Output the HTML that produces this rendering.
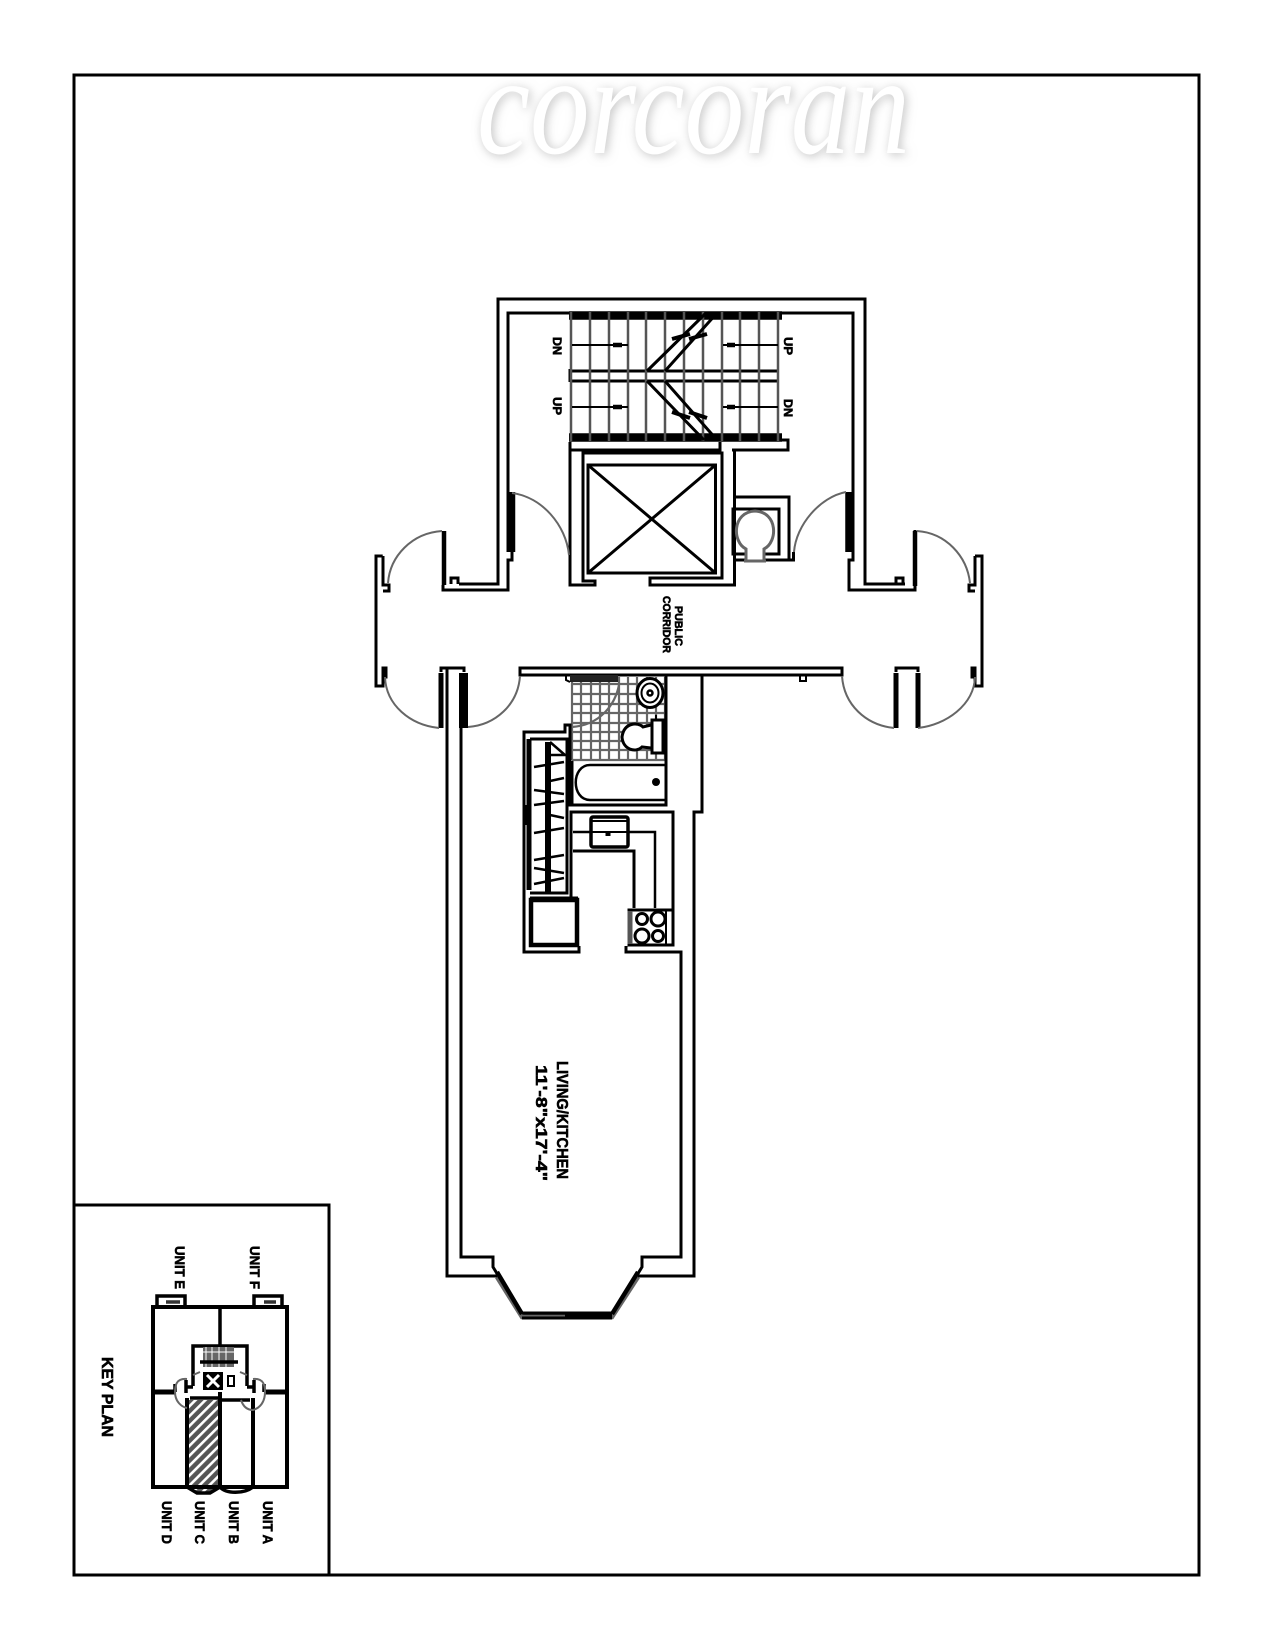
<!DOCTYPE html>
<html><head><meta charset="utf-8"><style>
html,body{margin:0;padding:0;background:#fff}
svg{display:block}
text{font-family:"Liberation Sans",sans-serif;font-weight:bold;fill:#000;stroke:#000;stroke-width:.6}
</style></head><body>
<svg xmlns="http://www.w3.org/2000/svg" width="1275" height="1650" viewBox="0 0 1275 1650">
<defs>
<filter id="wm" x="-10%" y="-30%" width="120%" height="160%"><feDropShadow dx="2" dy="2" stdDeviation="5" flood-color="#999" flood-opacity=".6"/></filter>
<pattern id="hatch" width="7" height="7" patternUnits="userSpaceOnUse" patternTransform="rotate(45)"><rect width="7" height="7" fill="#555"/><rect width="2.6" height="7" fill="#fff"/></pattern>
</defs>
<rect width="1275" height="1650" fill="#fff"/>
<text x="477" y="153" font-size="142" textLength="433" lengthAdjust="spacingAndGlyphs" style="font-family:'Liberation Serif',serif;font-style:italic;font-weight:normal;fill:#fff;stroke:none" filter="url(#wm)">corcoran</text>

<g fill="none" stroke="#000" stroke-width="3">
<rect x="74" y="75" width="1125" height="1500"/>
<path d="M74 1205H329V1575"/>

<!-- stair core outer walls -->
<path d="M459 584H498V299H865V584H905"/>
<path d="M451 584V578H458V584"/>
<path d="M896 584V578H903V584"/>
<path d="M443 585V590H508V560H512V552"/>
<path d="M508 552V313H853V552"/>
<path d="M853 552V560H849V590H915V530"/>
<path d="M444 531V585" stroke-width="4.5"/>
<path d="M915 531V586" stroke-width="4.5"/>
<path d="M511.5 492V552" stroke-width="7.5"/>
<path d="M849 492V552" stroke-width="7.5"/>

<!-- corridor end walls -->
<path d="M382.700 556H376V686H383V668H386V677H383"/>
<path d="M383 556V585H389V591H383"/>
<path d="M975 556H982V686H975V668H972V677H975"/>
<path d="M975 556V585H969V591H975"/>

<!-- corridor south wall -->
<rect x="520" y="668" width="322" height="7"/>
<path d="M441 672V668H464V672"/>
<path d="M896 672V668H918V672"/>
<path d="M441 673V728" stroke-width="5"/>
<path d="M463.500 673V728" stroke-width="9"/>
<path d="M896 673V728" stroke-width="5"/>
<path d="M918 673V728" stroke-width="5"/>
<path d="M800 675V681H806V675" stroke-width="2"/>

<!-- stairs -->
<path d="M569 315.500H782M569 437.500H782" stroke-width="8.500"/>
<path d="M570 371H777M570 381H777M570 369V382"/>
<g stroke="#555" stroke-width="2.500">
<path d="M571 312V441M590 312V441M609 312V441M628 312V441M646 312V441M665 312V441M684 312V441M703 312V441M722 312V441M740 312V441M759 312V441M778 312V441"/>
</g>
<path d="M572 345H628M723 345H778M572 407H628M723 407H778" stroke-width="2"/>
<path d="M647 371L706 313M665 371L717 313M647 381L704 440M665 381L717 440"/>
<path d="M672 339L690 334M689 339L707 334M672 412L690 418M689 412L707 418" stroke-width="4"/>
<path d="M613 345H622M727 345H735M613 407H622M727 407H735" stroke-width="4.500"/>

<!-- lift shaft -->
<path d="M570 442V585H595V581H583V453H722V578H650V585H734.500V450"/>
<path d="M570 450H720V442M732 450H788V440H780M734.500 497H789V560H734.500"/>
<path d="M789 560H793.500V552"/>
<rect x="588" y="465" width="127.500" height="108"/>
<path d="M588 465L715.500 573M715.500 465L588 573"/>
<rect x="733" y="509" width="46" height="45"/>
<path d="M746 560V549C732 542 732 512 755 511C778 512 778 542 764 549V560" stroke="#666" fill="#fff"/>
<path d="M744 561H766" stroke="#666"/>

<!-- unit walls -->
<path d="M447 668V1276H497"/>
<path d="M461 728V1257H493V1267L523 1316H612L642 1267V1257H681V952H626V946"/>
<path d="M638 1276H694V812H702V675"/>
<path d="M497 1276L522 1316H612L638 1276" stroke="#666" stroke-width="4.500" transform="translate(0 1)"/>
<path d="M497 1272L522 1314M612 1314L638 1272" stroke-width="4.500"/>
<path d="M522 1313H612M522 1318H612"/>
<path d="M565 1316H612" stroke-width="4"/>
</g>

<!-- door arcs -->
<g fill="none" stroke="#666" stroke-width="2">
<path d="M442 531C412 533 390 556 388 583"/>
<path d="M917 531C946 533 967 556 970 583"/>
<path d="M512 493C542 497 566 525 569 555"/>
<path d="M846 492C820 497 796 525 794 552"/>
<path d="M439 728C410 725 386 705 385 677"/>
<path d="M468 727C495 725 518 705 520 676"/>
<path d="M842 676C844 705 866 725 894 728"/>
<path d="M918 728C946 725 974 705 975 677"/>
</g>

<!-- bathroom tiles -->
<g fill="none" stroke="#666" stroke-width="2.200">
<path d="M572 677V760M581 677V760M591 677V760M600 677V760M609 677V760M619 677V760M628 677V760M637 677V760M647 677V760M656 677V760M665 677V760"/>
<path d="M572 684H665M572 694H665M572 704H665M572 713H665M572 723H665M572 732H665M572 741H665M572 750H665M572 760H665"/>
<path d="M619 685C615 705 600 725 572 727"/>
</g>
<rect x="570" y="675" width="48" height="7" fill="#222"/>
<path d="M570 675L566 675V680L570 682" fill="none" stroke="#000" stroke-width="2"/>
<g fill="none" stroke="#000" stroke-width="3">
<path d="M666 675V805H570V725H565V732H524V952H579V946"/>
<path d="M530 739H567V893H530"/>
<ellipse cx="650" cy="693" rx="13" ry="14.500" fill="#fff"/>
<ellipse cx="650" cy="693" rx="8.500" ry="9.500" stroke-width="2"/>
<circle cx="650" cy="693" r="2.500" stroke-width="2.500"/>
<path d="M651 725L643 727C638 722 624 722 622 737C623 750 636 753 642 747L651 748" fill="#fff"/>
<rect x="652" y="720" width="11" height="33" fill="#fff"/>
<path d="M656 715V720" stroke-width="2"/>
<path d="M666 765H590C571 765 571 800 590 800H666" stroke-width="2.500"/>
<path d="M572 761V805"/>
</g>
<circle cx="656" cy="782" r="4" fill="#000"/>

<!-- closet -->
<g fill="none" stroke="#000" stroke-width="3">
<path d="M529 739V890" stroke-width="5"/>
<path d="M548 742V892" stroke-width="6"/>
<rect x="524" y="805" width="7" height="20" fill="#000" stroke="none"/>
<path d="M550 742L565 755H550M550 755H566" stroke-width="2.500"/>
<path d="M534 767L564 762M550 781L564 778M534 790L564 794M534 805L564 801M550 815L564 818M534 833L564 828M534 860L564 855M534 868L564 873M534 884L564 878" stroke-width="2.500"/>
</g>

<!-- kitchen -->
<g fill="none" stroke="#000" stroke-width="3">
<path d="M571 898V812H673V945"/>
<path d="M573 851H634V908"/>
<path d="M573 832H655V908" stroke-width="2.500"/>
<rect x="591" y="817" width="37" height="30" rx="2" fill="#fff" stroke-width="3.500"/>
<path d="M591 821H628M591 832H628" stroke-width="2"/>
<path d="M608 833V836" stroke-width="5"/>
<rect x="531" y="900" width="46" height="45" stroke-width="4.500"/>
<path d="M530 898H578" />
<rect x="629" y="910" width="44" height="35"/>
<path d="M630 911V944" stroke="#555" stroke-width="5"/>
<path d="M666 911V945" stroke-width="2"/>
<circle cx="642" cy="919" r="5.500"/>
<circle cx="658" cy="919" r="7"/>
<circle cx="642" cy="936" r="7"/>
<circle cx="658" cy="936" r="5.500"/>
</g>

<!-- text -->
<text transform="translate(557,1061) rotate(90)" font-size="16" textLength="118" lengthAdjust="spacingAndGlyphs">LIVING/KITCHEN</text>
<text transform="translate(536,1065) rotate(90)" font-size="16" textLength="116" lengthAdjust="spacingAndGlyphs">11'-8"x17'-4"</text>
<text transform="translate(675,606) rotate(90)" font-size="11" textLength="40" lengthAdjust="spacingAndGlyphs">PUBLIC</text>
<text transform="translate(663,596) rotate(90)" font-size="11" textLength="57" lengthAdjust="spacingAndGlyphs">CORRIDOR</text>
<g font-size="12">
<text transform="translate(553,337) rotate(90)" textLength="18" lengthAdjust="spacingAndGlyphs">DN</text>
<text transform="translate(553,397) rotate(90)" textLength="18" lengthAdjust="spacingAndGlyphs">UP</text>
<text transform="translate(784,337) rotate(90)" textLength="18" lengthAdjust="spacingAndGlyphs">UP</text>
<text transform="translate(784,399) rotate(90)" textLength="18" lengthAdjust="spacingAndGlyphs">DN</text>
</g>

<!-- key plan -->
<g font-size="14">
<text transform="translate(102,1357) rotate(90)" font-size="16" textLength="80" lengthAdjust="spacingAndGlyphs">KEY PLAN</text>
<text transform="translate(175,1246) rotate(90)" textLength="43" lengthAdjust="spacingAndGlyphs">UNIT E</text>
<text transform="translate(250,1246) rotate(90)" textLength="43" lengthAdjust="spacingAndGlyphs">UNIT F</text>
<text transform="translate(162,1501) rotate(90)" textLength="43" lengthAdjust="spacingAndGlyphs">UNIT D</text>
<text transform="translate(195,1501) rotate(90)" textLength="43" lengthAdjust="spacingAndGlyphs">UNIT C</text>
<text transform="translate(229,1501) rotate(90)" textLength="43" lengthAdjust="spacingAndGlyphs">UNIT B</text>
<text transform="translate(263,1501) rotate(90)" textLength="43" lengthAdjust="spacingAndGlyphs">UNIT A</text>
</g>
<polygon points="187,1400 220,1400 220,1487 210,1493 197,1493 187,1487" fill="url(#hatch)"/>
<g fill="none" stroke="#000" stroke-width="3.500">
<rect x="153" y="1307" width="134" height="180" stroke-width="4"/>
<path d="M157 1307V1296H185V1307M254 1307V1296H282V1307"/>
<path d="M166 1302H180M264 1302H276" stroke="#333"/>
<path d="M220 1308V1346M193 1386V1346H247V1386"/>
<path d="M153 1392H175M264 1392H287" stroke-width="5"/>
<path d="M186 1380V1393M254 1380V1393M193 1387H186M247 1387H254"/>
<path d="M175 1392V1384M264 1392V1384"/>
<path d="M187 1398V1487M220 1392V1487M253 1398V1487" stroke-width="4"/>
<path d="M190 1398H220M220 1400H250"/>
<path d="M187 1487L197 1493H210L220 1487C226 1494 244 1494 253 1487"/>
</g>
<rect x="203" y="1347" width="31" height="20" fill="#666"/>
<path d="M203 1352H234M206 1347V1367M212 1347V1367M219 1347V1367M226 1347V1367" stroke="#fff" stroke-width="1"/>
<path d="M200 1362H238" stroke="#000" stroke-width="3.500"/>
<rect x="203" y="1372" width="20" height="18" fill="#000"/>
<path d="M207 1375L219 1387M219 1375L207 1387" stroke="#fff" stroke-width="3"/>
<rect x="228" y="1376" width="6" height="10" fill="none" stroke="#000" stroke-width="2"/>
<g fill="none" stroke="#666" stroke-width="2">
<path d="M187 1379C176 1378 175 1386 175 1392C175 1402 182 1407 187 1408"/>
<path d="M253 1379C264 1378 265 1386 265 1392C265 1402 260 1408 253 1410C247 1410 243 1406 241 1400"/>
<path d="M193 1375L200 1372M247 1375L240 1372"/>
</g>
</svg>
</body></html>
